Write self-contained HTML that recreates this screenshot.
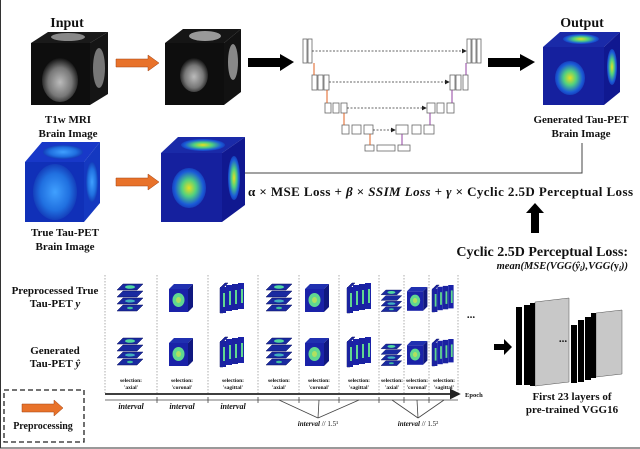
<!DOCTYPE html>
<html><head><meta charset="utf-8"><style>
html,body{margin:0;padding:0;background:#fff}
svg{display:block}
text{font-family:"Liberation Serif",serif;font-weight:bold;fill:#111}
</style></head><body>
<svg width="640" height="449" viewBox="0 0 640 449" xmlns="http://www.w3.org/2000/svg">
<defs>
<marker id="ah" markerWidth="6" markerHeight="6" refX="5" refY="3" orient="auto"><path d="M0,0L6,3L0,6z" fill="#222"/></marker>
<radialGradient id="pet" cx="50%" cy="50%" r="60%"><stop offset="0" stop-color="#e8e020"/><stop offset="0.35" stop-color="#50d080"/><stop offset="0.7" stop-color="#1a5ad8"/><stop offset="1" stop-color="#10209a"/></radialGradient>
<radialGradient id="petn" cx="50%" cy="50%" r="55%"><stop offset="0" stop-color="#40a0ff"/><stop offset="0.6" stop-color="#2070e0"/><stop offset="1" stop-color="#1030b0"/></radialGradient>
<radialGradient id="mri" cx="50%" cy="55%" r="55%"><stop offset="0" stop-color="#bbb"/><stop offset="0.6" stop-color="#777"/><stop offset="1" stop-color="#111"/></radialGradient>
<g id="ax">
 <polygon points="6,0 26,0 20,6 0,6" fill="#1a2aa0" stroke="#0a1060" stroke-width=".5"/>
 <polygon points="6,7 26,7 20,13 0,13" fill="#1a2aa0" stroke="#0a1060" stroke-width=".5"/>
 <polygon points="6,14 26,14 20,20 0,20" fill="#1a2aa0" stroke="#0a1060" stroke-width=".5"/>
 <polygon points="6,21 26,21 20,27 0,27" fill="#1a2aa0" stroke="#0a1060" stroke-width=".5"/>
 <ellipse cx="13" cy="3" rx="5" ry="1.8" fill="#50d8a0"/>
 <ellipse cx="13" cy="17" rx="5" ry="1.5" fill="#40b0c0"/>
 <ellipse cx="13" cy="24" rx="3" ry="1.2" fill="#40c0a0"/>
</g>
<g id="co">
 <polygon points="0,5 5,0 24,0 19,5" fill="#2030b0"/>
 <polygon points="19,5 24,0 24,23 19,28" fill="#101880"/>
 <rect x="0" y="5" width="19" height="23" fill="#1a22a8"/>
 <ellipse cx="9.5" cy="16" rx="6" ry="7" fill="#60d890"/>
 <ellipse cx="9.5" cy="16" rx="2.5" ry="3" fill="#b0e060"/>
</g>
<g id="sa">
 <g fill="#1a22a0" stroke="#0a1060" stroke-width=".5">
 <polygon points="0,5 5,0 8,0 3,5 3,30 0,30"/>
 </g>
 <rect x="0" y="4" width="6" height="26" fill="#1a22a0"/><rect x="6" y="2" width="6" height="26" fill="#1a22a8"/><rect x="12" y="1" width="6" height="26" fill="#1a22a0"/><rect x="18" y="0" width="6" height="26" fill="#1a22a8"/>
 <rect x="3" y="10" width="2" height="14" fill="#60d890"/><rect x="9" y="8" width="2" height="14" fill="#60d890"/><rect x="15" y="7" width="2" height="14" fill="#60d890"/><rect x="21" y="6" width="2" height="14" fill="#60d890"/>
</g>
</defs>
<rect x="0.5" y="-1" width="641" height="449" fill="none" stroke="#333" stroke-width="1"/>

<!-- top section -->
<text x="67" y="27" font-size="14" text-anchor="middle">Input</text>
<polygon points="31,43 48,32 108,32 90,43" fill="#1a1a1a"/>
<rect x="31" y="43" width="59" height="62" fill="#0e0e0e"/>
<polygon points="90,43 108,32 108,94 90,105" fill="#151515"/>
<ellipse cx="68" cy="37" rx="17" ry="4" fill="#888"/>
<ellipse cx="60" cy="80" rx="18" ry="22" fill="url(#mri)"/>
<ellipse cx="99" cy="68" rx="6" ry="20" fill="#777"/>
<polygon points="116,59 148,59 148,55 159,63 148,71 148,67 116,67" fill="#e8722a" stroke="#a04010" stroke-width=".5"/>
<polygon points="165,43 183,29 241,29 224,43" fill="#151515"/>
<rect x="165" y="43" width="59" height="62" fill="#0e0e0e"/>
<polygon points="224,43 241,29 241,92 224,105" fill="#121212"/>
<ellipse cx="205" cy="36" rx="16" ry="5" fill="#999"/>
<ellipse cx="194" cy="75" rx="14" ry="17" fill="url(#mri)"/>
<ellipse cx="233" cy="62" rx="5" ry="18" fill="#888"/>
<polygon points="248,58 280,58 280,54 294,62 280,71 280,67 248,67" fill="#000"/>

<!-- UNet -->
<g fill="#fff" stroke="#666" stroke-width=".8">
 <rect x="303" y="39" width="4" height="24"/><rect x="308" y="39" width="4" height="24"/>
 <rect x="467" y="39" width="4" height="24"/><rect x="472" y="39" width="4" height="24"/><rect x="477" y="39" width="4" height="24"/>
 <rect x="312" y="75" width="5" height="15"/><rect x="318" y="75" width="5" height="15"/><rect x="324" y="75" width="5" height="15"/>
 <rect x="450" y="75" width="5" height="15"/><rect x="456" y="75" width="5" height="15"/><rect x="463" y="75" width="5" height="15"/>
 <rect x="325" y="103" width="6" height="10"/><rect x="333" y="103" width="6" height="10"/><rect x="341" y="103" width="6" height="10"/>
 <rect x="427" y="103" width="8" height="10"/><rect x="437" y="103" width="7" height="10"/><rect x="447" y="103" width="7" height="10"/>
 <rect x="342" y="125" width="7" height="9"/><rect x="352" y="125" width="9" height="9"/><rect x="364" y="125" width="9" height="9"/>
 <rect x="396" y="125" width="12" height="9"/><rect x="412" y="125" width="9" height="9"/><rect x="424" y="125" width="10" height="9"/>
 <rect x="365" y="145" width="9" height="6"/><rect x="377" y="145" width="18" height="6"/><rect x="398" y="145" width="12" height="6"/>
</g>
<g stroke="#333" stroke-width=".8" stroke-dasharray="2,1.5" marker-end="url(#ah)">
 <line x1="312" y1="51" x2="466" y2="51"/><line x1="329" y1="82" x2="449" y2="82"/><line x1="347" y1="108" x2="426" y2="108"/><line x1="373" y1="130" x2="395" y2="130"/>
</g>
<g stroke="#e06020" stroke-width="1"><line x1="314" y1="63" x2="314" y2="75"/><line x1="327" y1="90" x2="327" y2="103"/><line x1="344" y1="113" x2="344" y2="125"/><line x1="370" y1="134" x2="370" y2="145"/></g>
<g stroke="#9040a0" stroke-width="1"><line x1="466" y1="63" x2="466" y2="75"/><line x1="452" y1="90" x2="452" y2="103"/><line x1="430" y1="113" x2="430" y2="125"/><line x1="402" y1="134" x2="402" y2="145"/></g>

<polygon points="488,58 520,58 520,54 535,62 520,71 520,67 488,67" fill="#000"/>
<text x="582" y="27" font-size="14" text-anchor="middle">Output</text>
<polygon points="543,47 560,32 620,32 604,47" fill="#1a2aa8"/>
<rect x="543" y="47" width="61" height="58" fill="#15209e"/>
<polygon points="604,47 620,32 620,92 604,105" fill="#101890"/>
<ellipse cx="581" cy="39" rx="18" ry="5" fill="url(#pet)"/>
<ellipse cx="570" cy="78" rx="15" ry="17" fill="url(#pet)"/>
<ellipse cx="612" cy="67" rx="5" ry="18" fill="url(#pet)"/>
<text x="581" y="123" font-size="11" text-anchor="middle">Generated Tau-PET</text>
<text x="581" y="137" font-size="11" text-anchor="middle">Brain Image</text>
<text x="68" y="123" font-size="11" text-anchor="middle">T1w MRI</text>
<text x="68" y="137" font-size="11" text-anchor="middle">Brain Image</text>

<polygon points="25,162 42,142 100,142 84,162" fill="#1838c8"/>
<rect x="25" y="162" width="59" height="60" fill="#1030b8"/>
<polygon points="84,162 100,142 100,203 84,222" fill="#1438c0"/>
<ellipse cx="63" cy="152" rx="20" ry="7" fill="url(#petn)"/>
<ellipse cx="55" cy="192" rx="22" ry="28" fill="url(#petn)"/>
<ellipse cx="92" cy="182" rx="6" ry="20" fill="url(#petn)"/>
<text x="65" y="236" font-size="11" text-anchor="middle">True Tau-PET</text>
<text x="65" y="250" font-size="11" text-anchor="middle">Brain Image</text>
<polygon points="116,178 148,178 148,174 159,182 148,190 148,186 116,186" fill="#e8722a" stroke="#a04010" stroke-width=".5"/>
<polygon points="161,153 178,137 245,137 222,153" fill="#1a2aa8"/>
<rect x="161" y="153" width="61" height="69" fill="#15209e"/>
<polygon points="222,153 245,137 245,205 222,222" fill="#101890"/>
<ellipse cx="203" cy="145" rx="22" ry="6" fill="url(#pet)"/>
<ellipse cx="189" cy="188" rx="17" ry="20" fill="url(#pet)"/>
<ellipse cx="234" cy="178" rx="6" ry="22" fill="url(#pet)"/>
<polyline points="245,173 582,173 582,143" fill="none" stroke="#444" stroke-width="1"/>
<text x="248" y="196" font-size="13" textLength="385">α × MSE Loss + <tspan font-style="italic">β</tspan> × <tspan font-style="italic">SSIM Loss</tspan> + <tspan font-style="italic">γ</tspan> × Cyclic 2.5D Perceptual Loss</text>
<polygon points="531,233 539,233 539,213 544,213 535,203 526,213 531,213" fill="#000"/>

<text x="628" y="256" font-size="14" text-anchor="end">Cyclic 2.5D Perceptual Loss:</text>
<text x="628" y="269" font-size="10.5" text-anchor="end" font-style="italic">mean(MSE(VGG(ŷ<tspan font-size="7" dy="2">i</tspan><tspan dy="-2">),VGG(</tspan><tspan font-style="normal">y</tspan><tspan font-size="7" dy="2">i</tspan><tspan dy="-2">))</tspan></text>

<!-- bottom -->
<text x="55" y="294" font-size="11" text-anchor="middle">Preprocessed True</text>
<text x="55" y="307" font-size="11" text-anchor="middle">Tau-PET <tspan font-style="italic">y</tspan></text>
<text x="55" y="354" font-size="11" text-anchor="middle">Generated</text>
<text x="55" y="367" font-size="11" text-anchor="middle">Tau-PET <tspan font-style="italic">ŷ</tspan></text>
<g stroke="#999" stroke-width=".8" stroke-dasharray="1.5,1.5">
 <line x1="105" y1="275" x2="105" y2="393"/><line x1="157" y1="275" x2="157" y2="393"/><line x1="208" y1="275" x2="208" y2="393"/><line x1="258" y1="275" x2="258" y2="393"/><line x1="299" y1="275" x2="299" y2="393"/><line x1="339" y1="275" x2="339" y2="393"/><line x1="379" y1="275" x2="379" y2="393"/><line x1="404" y1="275" x2="404" y2="393"/><line x1="429" y1="275" x2="429" y2="393"/><line x1="458" y1="275" x2="458" y2="393"/>
</g>
<use href="#ax" x="117" y="284"/><use href="#co" x="169" y="284"/><use href="#sa" x="220" y="283"/>
<use href="#ax" x="266" y="284"/><use href="#co" x="305" y="284"/><use href="#sa" x="347" y="283"/>
<use href="#ax" x="381" y="290" transform="translate(381,290) scale(.8) translate(-381,-290)"/>
<use href="#co" x="407" y="287" transform="translate(407,287) scale(.85) translate(-407,-287)"/>
<use href="#sa" x="432" y="285" transform="translate(432,285) scale(.9) translate(-432,-285)"/>
<use href="#ax" x="117" y="338"/><use href="#co" x="169" y="338"/><use href="#sa" x="220" y="337"/>
<use href="#ax" x="266" y="338"/><use href="#co" x="305" y="338"/><use href="#sa" x="347" y="337"/>
<use href="#ax" x="381" y="344" transform="translate(381,344) scale(.8) translate(-381,-344)"/>
<use href="#co" x="407" y="341" transform="translate(407,341) scale(.85) translate(-407,-341)"/>
<use href="#sa" x="432" y="339" transform="translate(432,339) scale(.9) translate(-432,-339)"/>
<text x="471" y="318" font-size="11" text-anchor="middle">...</text>
<g font-size="5.5" text-anchor="middle">
 <text x="131" y="382">selection:</text><text x="131" y="389">'axial'</text>
 <text x="182" y="382">selection:</text><text x="182" y="389">'coronal'</text>
 <text x="233" y="382">selection:</text><text x="233" y="389">'sagittal'</text>
 <text x="279" y="382">selection:</text><text x="279" y="389">'axial'</text>
 <text x="319" y="382">selection:</text><text x="319" y="389">'coronal'</text>
 <text x="359" y="382">selection:</text><text x="359" y="389">'sagittal'</text>
 <text x="392" y="382">selection:</text><text x="392" y="389">'axial'</text>
 <text x="417" y="382">selection:</text><text x="417" y="389">'coronal'</text>
 <text x="444" y="382">selection:</text><text x="444" y="389">'sagittal'</text>
</g>
<line x1="105" y1="394" x2="459" y2="394" stroke="#222" stroke-width="1.8" marker-end="url(#ah)"/>
<text x="465" y="397" font-size="6.5" font-weight="normal">Epoch</text>
<line x1="105" y1="400" x2="458" y2="400" stroke="#444" stroke-width=".8"/>
<g stroke="#444" stroke-width=".8"><line x1="157" y1="397" x2="157" y2="403"/><line x1="208" y1="397" x2="208" y2="403"/><line x1="258" y1="397" x2="258" y2="403"/><line x1="299" y1="397" x2="299" y2="403"/><line x1="339" y1="397" x2="339" y2="403"/><line x1="379" y1="397" x2="379" y2="403"/><line x1="404" y1="397" x2="404" y2="403"/><line x1="429" y1="397" x2="429" y2="403"/>
 <line x1="279" y1="400" x2="318" y2="418"/><line x1="319" y1="400" x2="318" y2="418"/><line x1="359" y1="400" x2="318" y2="418"/>
 <line x1="392" y1="400" x2="418" y2="418"/><line x1="417" y1="400" x2="418" y2="418"/><line x1="444" y1="400" x2="418" y2="418"/></g>
<g font-size="8" font-style="italic" text-anchor="middle"><text x="131" y="409">interval</text><text x="182" y="409">interval</text><text x="233" y="409">interval</text></g>
<text x="318" y="426" font-size="7" text-anchor="middle"><tspan font-style="italic">interval</tspan> <tspan font-weight="normal">// 1.5¹</tspan></text>
<text x="418" y="426" font-size="7" text-anchor="middle"><tspan font-style="italic">interval</tspan> <tspan font-weight="normal">// 1.5²</tspan></text>

<rect x="4" y="390" width="80" height="52" fill="none" stroke="#222" stroke-width="1.3" stroke-dasharray="5,3"/>
<polygon points="22,404 54,404 54,400 63,408 54,416 54,412 22,412" fill="#e8722a" stroke="#a04010" stroke-width=".5"/>
<text x="43" y="429" font-size="10" text-anchor="middle">Preprocessing</text>

<polygon points="494,344 504,344 504,339 512,347 504,355 504,350 494,350" fill="#000"/>
<polygon points="535,302 569,298 569,382 535,386" fill="#c8c8c8" stroke="#555" stroke-width=".5"/>
<rect x="516" y="307" width="6" height="78" fill="#000"/><rect x="524" y="305" width="6" height="80" fill="#000"/><rect x="530" y="303" width="5" height="83" fill="#000"/>
<polygon points="596,313 622,310 622,374 596,377" fill="#c8c8c8" stroke="#555" stroke-width=".5"/>
<rect x="571" y="325" width="6" height="58" fill="#000"/><rect x="578" y="320" width="6" height="62" fill="#000"/><rect x="585" y="317" width="6" height="63" fill="#000"/><rect x="591" y="313" width="5" height="65" fill="#000"/>
<text x="563" y="342" font-size="11" text-anchor="middle">...</text>
<text x="572" y="400" font-size="11" text-anchor="middle">First 23 layers of</text>
<text x="572" y="413" font-size="11" text-anchor="middle">pre-trained VGG16</text>
</svg>
</body></html>
